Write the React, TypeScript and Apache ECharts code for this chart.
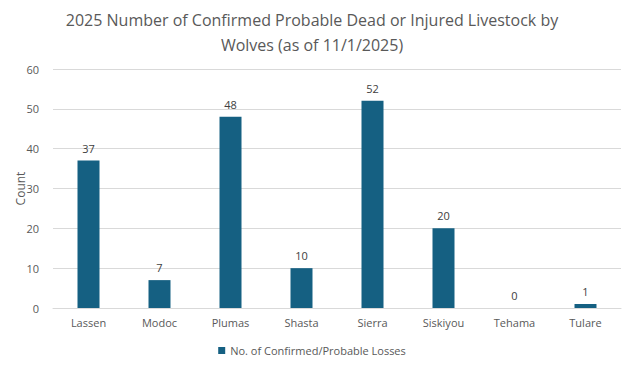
import React, { useEffect, useRef } from "react";
import * as echarts from "echarts";

const categories = ["Lassen", "Modoc", "Plumas", "Shasta", "Sierra", "Siskiyou", "Tehama", "Tulare"];
const losses = [37, 7, 48, 10, 52, 20, 0, 1];
const seriesName = "No. of Confirmed/Probable Losses";
const titleText = "2025 Number of Confirmed Probable Dead or Injured Livestock by\nWolves (as of 11/1/2025)";

export default function App() {
  const ref = useRef<HTMLDivElement>(null);
  useEffect(() => {
    const chart = echarts.init(ref.current!, null, { renderer: "svg" });
    const font = "'Open Sans', sans-serif";
    chart.setOption({
      animation: false,
      textStyle: { fontFamily: font },
      title: {
        text: titleText,
        left: "center",
        top: 2,
        textStyle: { fontFamily: font, fontSize: 16, fontWeight: "normal", color: "#595959", lineHeight: 25 },
      },
      legend: {
        bottom: 4,
        left: "center",
        icon: "rect",
        itemWidth: 7,
        itemHeight: 7,
        itemGap: 4,
        textStyle: { fontFamily: font, fontSize: 11, color: "#595959" },
        data: [seriesName],
      },
      grid: { left: 53, right: 3, top: 69, bottom: 57, containLabel: false },
      xAxis: {
        type: "category",
        data: categories,
        axisTick: { show: false },
        axisLine: { lineStyle: { color: "#d9d9d9" } },
        axisLabel: { color: "#595959", fontSize: 11, margin: 9, fontFamily: font },
      },
      yAxis: {
        type: "value",
        min: 0,
        max: 60,
        interval: 10,
        name: "Count",
        nameLocation: "middle",
        nameGap: 27,
        nameMoveOverlap: false,
        nameTextStyle: { color: "#595959", fontSize: 12, fontFamily: font },
        axisLabel: { color: "#595959", fontSize: 11, margin: 14, fontFamily: font },
        splitLine: { lineStyle: { color: "#d9d9d9" } },
      },
      series: [
        {
          name: seriesName,
          type: "bar",
          data: losses,
          barWidth: 22,
          itemStyle: { color: "#156082" },
          label: { show: true, position: "top", color: "#404040", fontSize: 11, distance: 7, fontFamily: font },
        },
      ],
    });
    return () => chart.dispose();
  }, []);
  return <div ref={ref} style={{ width: 624, height: 365, position: "absolute", left: 0, top: 0 }} />;
}
